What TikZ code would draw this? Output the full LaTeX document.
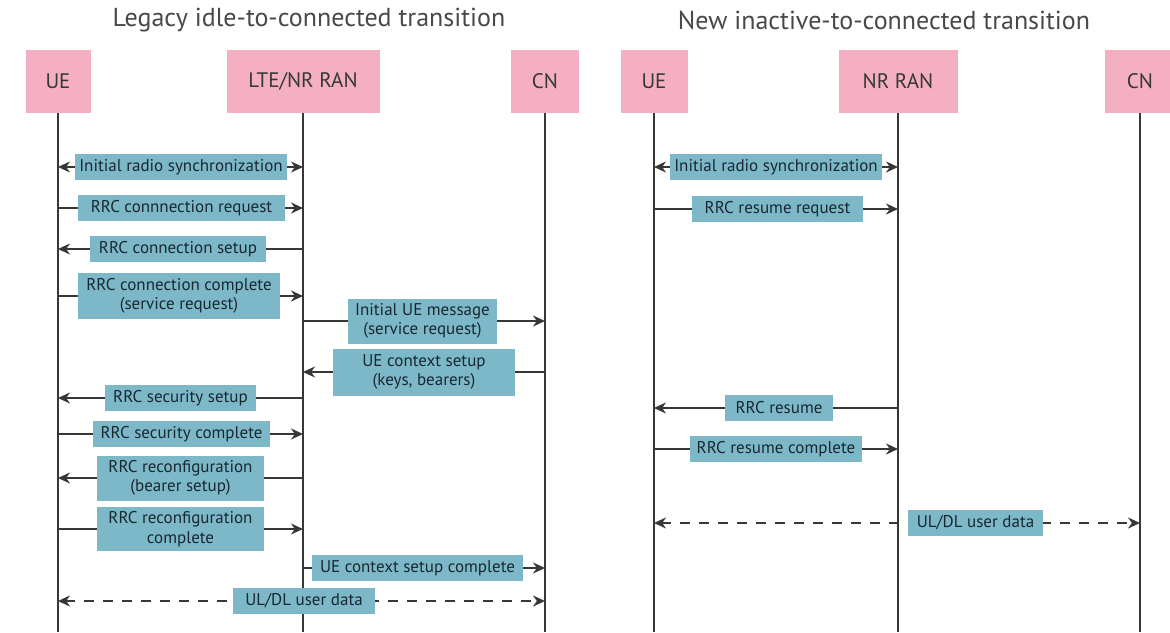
\documentclass[tikz,border=0pt]{standalone}
\usepackage{fontspec}
\setmainfont{PT Sans}
\usetikzlibrary{arrows.meta,backgrounds}
\definecolor{entity}{RGB}{244,176,194}
\definecolor{msgfill}{RGB}{125,184,201}
\definecolor{ink}{RGB}{55,55,55}
\definecolor{msgtext}{RGB}{24,40,48}
\definecolor{titlegray}{RGB}{72,72,72}
\tikzset{
  entitybox/.style={fill=entity, minimum height=63pt, inner sep=0pt,
    font=\fontsize{21}{24}\selectfont, text=ink},
  titletext/.style={font=\fontsize{26}{30}\selectfont, text=titlegray},
  lifeline/.style={draw=ink, line width=2.6pt},
  msgbox/.style={fill=msgfill, inner sep=0pt, minimum height=26pt, align=center,
    font=\fontsize{17}{19.5}\selectfont, text=msgtext},
  tip/.tip={Stealth[length=12pt,width=11pt]},
  msgto/.style={draw=ink, line width=2.6pt, -tip},
  msgfrom/.style={draw=ink, line width=2.6pt, tip-},
  msgboth/.style={draw=ink, line width=2.6pt, tip-tip},
  datalink/.style={draw=ink, line width=2.6pt, tip-tip, dash pattern=on 10pt off 9pt}
}
\begin{document}
\begin{tikzpicture}[x=1pt,y=-1pt]
\useasboundingbox (0,0) rectangle (1170,632);
\clip (0,0) rectangle (1170,632);

% ---------- titles ----------
\node[titletext] (titleL) at (309,20) {Legacy idle-to-connected transition};
\node[titletext] (titleR) at (884,20) {New inactive-to-connected transition};

% ---------- entities, legacy procedure ----------
\node[entitybox, minimum width=65pt]  (ueA)  at (58,81.5)  {UE};
\node[entitybox, minimum width=153pt] (ranA) at (303,81.5) {LTE/NR RAN};
\node[entitybox, minimum width=68pt]  (cnA)  at (545,81.5) {CN};
% ---------- entities, resume procedure ----------
\node[entitybox, minimum width=67pt]  (ueB)  at (654,81.5) {UE};
\node[entitybox, minimum width=119pt] (ranB) at (898,81.5) {NR RAN};
\node[entitybox, minimum width=70pt]  (cnB)  at (1140,81.5) {CN};

\coordinate (ueAend)  at (58,632);
\coordinate (ranAend) at (303,632);
\coordinate (cnAend)  at (545,632);
\coordinate (ueBend)  at (654,632);
\coordinate (ranBend) at (898,632);
\coordinate (cnBend)  at (1140,632);

% ---------- message labels, legacy procedure ----------
\node[msgbox, minimum width=212pt] (a1)  at (181,167)   {Initial radio synchronization};
\node[msgbox, minimum width=207pt] (a2)  at (181.5,208) {RRC connnection request};
\node[msgbox, minimum width=176pt] (a3)  at (178,249)   {RRC connection setup};
\node[msgbox, minimum width=202pt, minimum height=46pt] (a4) at (179,296) {RRC connection complete\\(service request)};
\node[msgbox, minimum width=149pt, minimum height=45pt] (a5) at (422.5,321) {Initial UE message\\(service request)};
\node[msgbox, minimum width=182pt, minimum height=47pt] (a6) at (424,372) {UE context setup\\(keys, bearers)};
\node[msgbox, minimum width=151pt] (a7)  at (180.5,398) {RRC security setup};
\node[msgbox, minimum width=177pt] (a8)  at (181.5,434) {RRC security complete};
\node[msgbox, minimum width=167pt, minimum height=45pt] (a9)  at (180.5,478) {RRC reconfiguration\\(bearer setup)};
\node[msgbox, minimum width=167pt, minimum height=44pt] (a10) at (180.5,529) {RRC reconfiguration\\complete};
\node[msgbox, minimum width=211pt] (a11) at (417.5,568) {UE context setup complete};
\node[msgbox, minimum width=142pt] (a12) at (304,601)   {UL/DL user data};

% ---------- message labels, resume procedure ----------
\node[msgbox, minimum width=212pt] (b1) at (776,167)   {Initial radio synchronization};
\node[msgbox, minimum width=171pt] (b2) at (777.5,209) {RRC resume request};
\node[msgbox, minimum width=108pt] (b3) at (779,408)   {RRC resume};
\node[msgbox, minimum width=172pt] (b4) at (776,449)   {RRC resume complete};
\node[msgbox, minimum width=135pt] (b5) at (975.5,523) {UL/DL user data};

\begin{scope}[on background layer]
  % lifelines
  \foreach \e in {ueA,ranA,cnA,ueB,ranB,cnB}
    \draw[lifeline] (\e.south) -- (\e end);
  % legacy procedure
  \draw[msgboth]  (ueA |- a1)  -- (ranA |- a1);
  \draw[msgto]    (ueA |- a2)  -- (ranA |- a2);
  \draw[msgfrom]  (ueA |- a3)  -- (ranA |- a3);
  \draw[msgto]    (ueA |- a4)  -- (ranA |- a4);
  \draw[msgto]    (ranA |- a5) -- (cnA |- a5);
  \draw[msgfrom]  (ranA |- a6) -- (cnA |- a6);
  \draw[msgfrom]  (ueA |- a7)  -- (ranA |- a7);
  \draw[msgto]    (ueA |- a8)  -- (ranA |- a8);
  \draw[msgfrom]  (ueA |- a9)  -- (ranA |- a9);
  \draw[msgto]    (ueA |- a10) -- (ranA |- a10);
  \draw[msgto]    (ranA |- a11) -- (cnA |- a11);
  \draw[datalink] (ueA |- a12) -- (cnA |- a12);
  % resume procedure
  \draw[msgboth]  (ueB |- b1) -- (ranB |- b1);
  \draw[msgto]    (ueB |- b2) -- (ranB |- b2);
  \draw[msgfrom]  (ueB |- b3) -- (ranB |- b3);
  \draw[msgto]    (ueB |- b4) -- (ranB |- b4);
  \draw[datalink] (ueB |- b5) -- (cnB |- b5);
\end{scope}
\end{tikzpicture}
\end{document}
